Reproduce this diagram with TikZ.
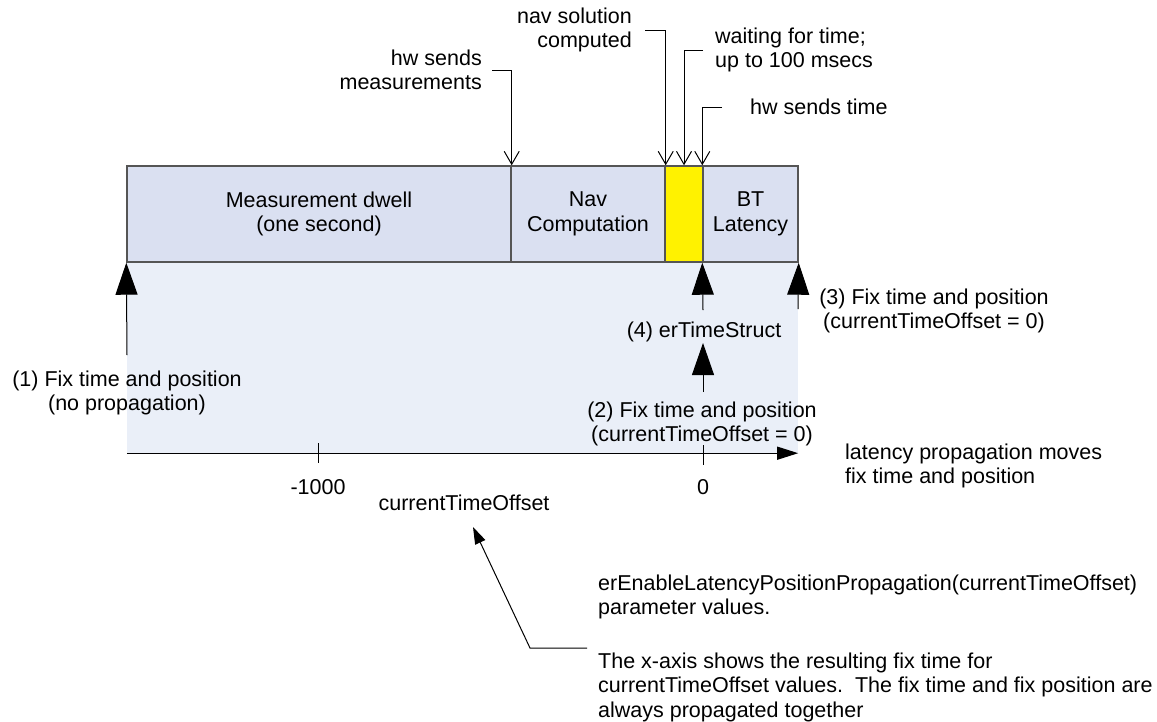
\documentclass[tikz,border=0pt]{standalone}
\usepackage{fontspec}
\setmainfont{Liberation Sans}
\usetikzlibrary{arrows.meta}

\definecolor{bandfill}{HTML}{DAE0F1}
\definecolor{spanfill}{HTML}{EAEFF8}
\definecolor{bandline}{HTML}{555555}

\begin{document}
\begin{tikzpicture}[
  x=1pt, y=-1pt,
  font=\fontsize{21.5}{24.5}\selectfont,
  seg/.style={draw=bandline, line width=1.4pt, fill=bandfill, align=center,
    inner sep=0pt, minimum height=96pt},
  lbl/.style={inner sep=0pt, align=center},
  leader/.style={draw=black, line width=1pt, -{Straight Barb[length=13pt,width=15pt]}},
  bigarrow/.style={draw=black, line width=1pt, -{Triangle[length=32pt,width=22pt]}},
  axisarrow/.style={draw=black, line width=1.2pt, -{Triangle[length=21pt,width=13pt]}},
  callarrow/.style={draw=black, line width=1pt, -{Triangle[length=17pt,width=11pt]}}
]
\useasboundingbox (0,0) rectangle (1157,721);

% shaded span below the time band
\node[fill=spanfill, inner sep=0pt, minimum width=671pt, minimum height=191pt] (span) at (462.5,357.5) {};

% the time band
\node[seg, minimum width=384pt] (dwell) at (319,214) {Measurement dwell\\(one second)};
\node[seg, minimum width=154pt] (navcomp) at (588,214) {Nav\\Computation};
\node[seg, minimum width=38pt, fill=yellow] (waitbar) at (684,214) {};
\node[seg, minimum width=95pt] (btlat) at (750.5,214) {BT\\Latency};

% events on top of the band
\node[lbl, align=right, anchor=east] (hwmeas) at (482,70) {hw sends\\measurements};
\node[lbl, align=right, anchor=east] (navdone) at (632,30) {nav solution\\computed};
\node[lbl, align=left, anchor=west] (waitnote) at (715,50) {waiting for time;\\up to 100 msecs};
\node[lbl, align=left, anchor=west] (hwtime) at (750,107) {hw sends time};

\draw[leader] ([xshift=10]hwmeas.east) -| (dwell.north east);
\draw[leader] ([xshift=13]navdone.east) -| (navcomp.north east);
\draw[leader] ([xshift=-12]waitnote.west) -| (waitbar.north);
\draw[leader] ([xshift=-28]hwtime.west) -| (btlat.north west);

% fix points
\node[lbl] (fix1) at (127,393) {(1) Fix time and position\\(no propagation)};
\node[lbl] (fix3) at (934,311) {(3) Fix time and position\\(currentTimeOffset = 0)};
\node[lbl] (ertime) at (704,332) {(4) erTimeStruct};
\node[lbl] (fix2) at (702,424) {(2) Fix time and position\\(currentTimeOffset = 0)};

\coordinate (fix1foot) at (127,355);
\coordinate (fix3foot) at (798,309);
\coordinate (ertimetop) at (703,310);
\coordinate (fix2top) at (703,392);
\coordinate (ertimefoot) at (703,343);

\draw[bigarrow] (fix1foot) -- (dwell.south west);
\draw[bigarrow] (fix3foot) -- (btlat.south east);
\draw[bigarrow] (ertimetop) -- (btlat.south west);
\draw[bigarrow] (fix2top) -- (ertimefoot);

% offset axis
\draw[axisarrow] (span.south west) -- (span.south east);
\node[lbl] (m1000) at (318,487) {-1000};
\node[lbl] (zero) at (703,487) {0};
\draw[line width=1pt] (318,443) -- (318,463);
\draw[line width=1pt] (703,445) -- (703,465);

\node[lbl, align=left, anchor=west] (latnote) at (845,466) {latency propagation moves\\fix time and position};
\node[lbl] (offsetlbl) at (464,503) {currentTimeOffset};

% parameter notes
\node[lbl, align=left, anchor=west] (paramnote) at (598,597)
  {erEnableLatencyPositionPropagation(currentTimeOffset)\\parameter values.};
\node[lbl, align=left, anchor=west] (xaxisnote) at (598,687)
  {The x-axis shows the resulting fix time for\\currentTimeOffset values.\ \ The fix time and fix position are\\always propagated together};

\coordinate (callfoot) at (587,648);
\coordinate (callbend) at (530,648);
\coordinate (calltip) at (473,527);
\draw[callarrow] (callfoot) -- (callbend) -- (calltip);

\end{tikzpicture}
\end{document}
